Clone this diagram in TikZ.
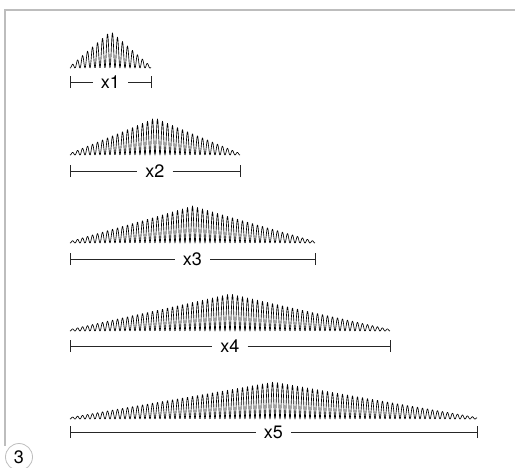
\documentclass[tikz,border=0pt]{standalone}
\usepackage{fontspec}
\setmainfont{TeX Gyre Heros}
\definecolor{framegray}{HTML}{BDBDBD}
\begin{document}
\begin{tikzpicture}[x=1pt,y=-1pt,
  wave/.style={line width=0.65pt,black,line join=round},
  dimline/.style={line width=0.8pt,black!85},
  lab/.style={inner sep=0pt,minimum width=35pt,minimum height=12pt,font=\fontsize{18}{18}\selectfont},
  frameline/.style={line width=2pt,framegray}]
\useasboundingbox (0,0) rectangle (515,467);
\clip (0,0) rectangle (515,467);
% frame
\draw[frameline] (515,10) -- (5,10) -- (5,446);
\node[circle,draw=framegray,line width=0.8pt,minimum size=27pt,inner sep=0pt,
      font=\fontsize{18}{18}\selectfont] (num) at (19,457) {3};
% wave packets
\newcommand\wavepacket[4]{% L R base dimy
  \pgfmathsetmacro\cc{(#1+#2)/2}
  \pgfmathsetmacro\ww{(#2-#1)/2}
  \pgfmathtruncatemacro\ns{(#2-#1)*2.4}
  \draw[wave] plot[domain=#1:#2,samples=\ns,variable=\t]
    (\t,{#3-(1.5+35.5*(1-abs(\t-\cc)/\ww))*(1-cos(72*mod(\t-#1,5)))/2});
}
\wavepacket{70}{151}{68}{82}
\wavepacket{70}{240}{155}{171}
\wavepacket{70}{315}{243}{259}
\wavepacket{70}{390}{331}{346}
\wavepacket{70}{477}{419}{432}
% dimension lines
\foreach \n/\R/\D in {1/151/82,2/240/171,3/315/259,4/390/346,5/477/432}{
  \coordinate (l\n) at (70,\D);
  \coordinate (r\n) at (\R,\D);
  \node[lab] (t\n) at ({(70+\R)/2},\D) {x\n};
  \draw[dimline] ([yshift=-6pt]l\n) -- ([yshift=6pt]l\n);
  \draw[dimline] ([yshift=-6pt]r\n) -- ([yshift=6pt]r\n);
  \draw[dimline] (l\n) -- (t\n.west);
  \draw[dimline] (t\n.east) -- (r\n);
}
\end{tikzpicture}
\end{document}
